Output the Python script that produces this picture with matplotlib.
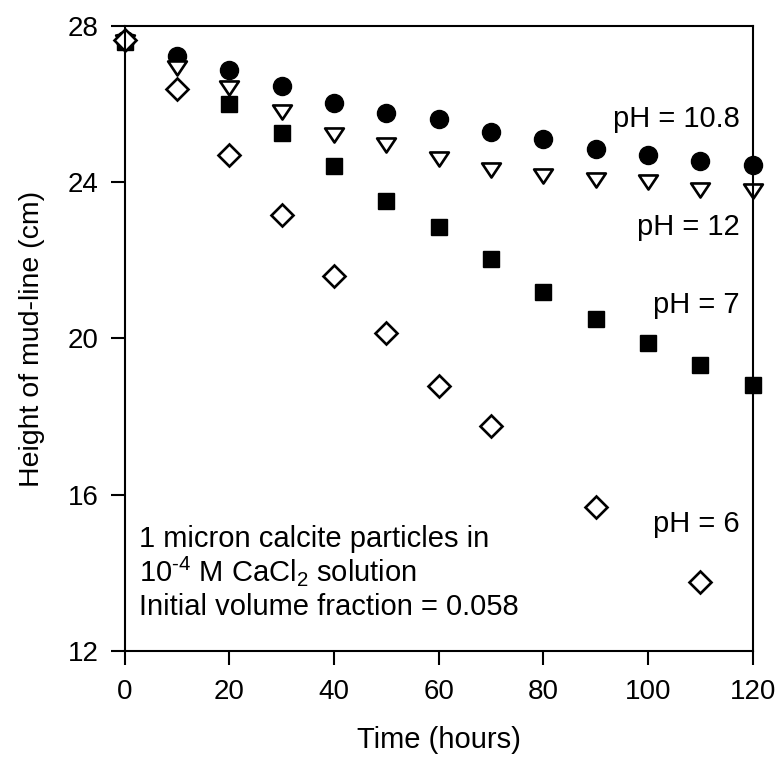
import numpy as np
import matplotlib
matplotlib.use('Agg')
import matplotlib.pyplot as plt
from matplotlib.path import Path

plt.rcParams['font.family'] = ['Liberation Sans', 'DejaVu Sans']
plt.rcParams['mathtext.fontset'] = 'custom'
plt.rcParams['mathtext.rm'] = 'Liberation Sans'

# pH = 10.8 (filled circles)
t_108 = [0, 10, 20, 30, 40, 50, 60, 70, 80, 90, 100, 110, 120]
h_108 = [27.65, 27.23, 26.86, 26.47, 26.04, 25.78, 25.61, 25.28, 25.10, 24.84, 24.70, 24.55, 24.45]

# pH = 12 (open down triangles)
t_12 = [0, 10, 20, 30, 40, 50, 60, 70, 80, 90, 100, 110, 120]
h_12 = [27.6, 26.92, 26.4, 25.8, 25.2, 24.94, 24.6, 24.31, 24.17, 24.05, 24.0, 23.81, 23.78]

# pH = 7 (filled squares)
t_7 = [0, 20, 30, 40, 50, 60, 70, 80, 90, 100, 110, 120]
h_7 = [27.6, 26.01, 25.27, 24.42, 23.52, 22.85, 22.03, 21.19, 20.5, 19.89, 19.31, 18.81]

# pH = 6 (open diamonds)
t_6 = [0, 10, 20, 30, 40, 50, 60, 70, 90, 110]
h_6 = [27.64, 26.38, 24.7, 23.16, 21.6, 20.13, 18.78, 17.76, 15.69, 13.77]

labels = ['pH = 10.8', 'pH = 12', 'pH = 7', 'pH = 6']
label_y = [25.41, 22.65, 20.65, 15.05]

note_lines = ['1 micron calcite particles in',
              r'10$^{\mathregular{‐4}}$ M CaCl$_{\mathregular{2}}$ solution',
              'Initial volume fraction = 0.058']
note_y = [14.66, 13.79, 12.92]

xticks = [0, 20, 40, 60, 80, 100, 120]
yticks = [12, 16, 20, 24, 28]

fig = plt.figure(figsize=(7.8, 7.63), dpi=100)
ax = fig.add_axes([0.160, 0.1468, 0.805, 0.8192])

tri = Path([(-1, 0.75), (1, 0.75), (0, -0.75), (-1, 0.75)], closed=True)

ax.plot(t_108, h_108, 'o', ms=13, color='black', clip_on=False)
ax.plot(t_12, h_12, marker=tri, ls='none', ms=13.5, mfc='white', mec='black', mew=1.9, clip_on=False)
ax.plot(t_7, h_7, 's', ms=12, color='black', clip_on=False)
ax.plot(t_6, h_6, 'D', ms=11, mfc='white', mec='black', mew=1.9, clip_on=False)

for lab, yy in zip(labels, label_y):
    ax.text(117.5, yy, lab, ha='right', va='baseline', fontsize=21)

for line, yy in zip(note_lines, note_y):
    ax.text(2.7, yy, line, ha='left', va='baseline', fontsize=21)

ax.set_xlim(0, 120)
ax.set_ylim(12, 28)
ax.set_xticks(xticks)
ax.set_yticks(yticks)
ax.tick_params(direction='out', length=10, width=1.5, labelsize=20)
ax.tick_params(axis='x', pad=10)
ax.tick_params(axis='y', pad=9)
for s in ax.spines.values():
    s.set_linewidth(1.5)

ax.set_xlabel('Time (hours)', fontsize=21, labelpad=15)
ax.set_ylabel('Height of mud-line (cm)', fontsize=20.5, labelpad=16)

fig.savefig('out.png', dpi=100)
